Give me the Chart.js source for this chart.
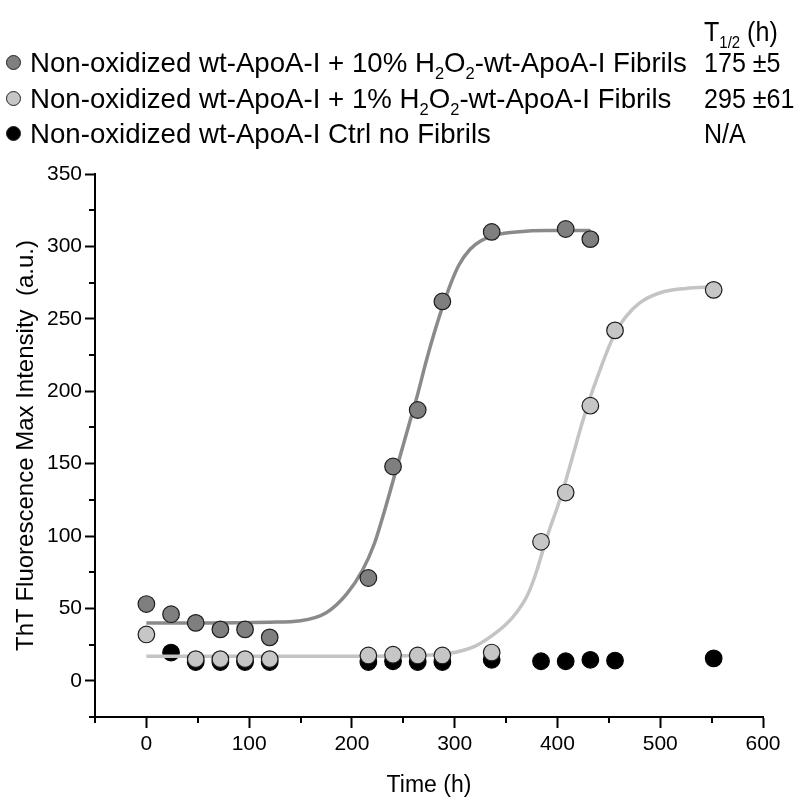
<!DOCTYPE html>
<html>
<head>
<meta charset="utf-8">
<script src="https://cdn.jsdelivr.net/npm/chart.js@4.4.1/dist/chart.umd.min.js"></script>
<style>
body{margin:0;background:#fff;}
#wrap{position:relative;width:800px;height:803px;overflow:hidden;}
#c{position:absolute;left:0;top:0;}
.lg{position:absolute;font-family:"Liberation Sans",Arial,sans-serif;font-size:28.5px;line-height:30px;white-space:nowrap;color:#000;transform-origin:0 50%;transform:scaleX(0.97);}
.lg sub{font-size:17px;vertical-align:-7px;line-height:0;}
.num{transform:scaleX(0.88);}
.dot{position:absolute;width:15px;height:15px;border-radius:50%;border:1.2px solid #222;box-sizing:border-box;}
</style>
</head>
<body>
<div id="wrap">
<canvas id="c" width="800" height="803"></canvas>
<div class="lg num" style="left:704px;top:16px;">T<sub>1/2</sub> (h)</div>

<div class="dot" style="left:6px;top:55px;background:#7f7f7f"></div>
<div class="lg" style="left:30px;top:47px;">Non-oxidized wt-ApoA-I + 10% H<sub>2</sub>O<sub>2</sub>-wt-ApoA-I Fibrils</div>
<div class="lg num" style="left:704px;top:47px;">175 ±5</div>

<div class="dot" style="left:6px;top:91px;background:#c6c6c6"></div>
<div class="lg" style="left:30px;top:83px;">Non-oxidized wt-ApoA-I + 1% H<sub>2</sub>O<sub>2</sub>-wt-ApoA-I Fibrils</div>
<div class="lg num" style="left:704px;top:83px;">295 ±61</div>

<div class="dot" style="left:6px;top:126px;background:#000"></div>
<div class="lg" style="left:30px;top:118px;">Non-oxidized wt-ApoA-I Ctrl no Fibrils</div>
<div class="lg num" style="left:704px;top:118px;">N/A</div>
</div>

<script>
// measured points
const timeDark = [0, 24, 48, 72, 96, 120, 216, 240, 264, 288, 336, 408, 432];
const dark10 = [53, 46, 40, 35.5, 35.5, 30, 71, 148, 187, 262, 310, 312, 305];

const timeLight = [0, 48, 72, 96, 120, 216, 240, 264, 288, 336, 384, 408, 432, 456, 552];
const light1 = [32, 15, 15, 15, 15, 17.5, 18, 17.5, 17.5, 19.5, 96, 130, 190, 242, 270];

const timeCtrl = [24, 48, 72, 96, 120, 216, 240, 264, 288, 336, 384, 408, 432, 456, 552];
const ctrl = [19.5, 13, 13, 13, 13, 13, 13.5, 13, 13, 14.5, 13.5, 13.5, 14.5, 14, 15.5];

// fitted curves
const fitTimeDark = [0, 60, 120, 150, 175, 195, 210, 222, 232, 240, 248, 256, 264, 272, 280, 288, 296, 304, 315, 326, 340, 360, 390, 432];
const fitDark = [40, 40, 40.5, 41.5, 47, 60, 76, 95, 118, 138, 158, 178, 198, 220, 240, 258, 274, 287, 298, 304, 308, 310, 311, 311];

const fitTimeLight = [0, 100, 200, 260, 295, 320, 335, 350, 360, 370, 378, 385, 392, 400, 408, 416, 424, 432, 440, 448, 456, 466, 480, 500, 525, 552];
const fitLight = [17, 17, 17, 17.5, 19, 24, 30.5, 39, 47, 58, 72, 88, 104, 120, 138, 158, 178, 196, 212, 227, 240, 251, 261, 268, 271, 272];

const xTicksMajor = 100;
const yTicksMajor = 50;

function pts(xs, ys){
    return xs.map((x,i)=>({x:x, y:ys[i]}))
}

// short unlabeled ticks between the labeled ones
const minorTicks = {
    id:'minorTicks',
    afterDraw(chart){
        const ctx = chart.ctx
        const xs = chart.scales.x, ys = chart.scales.y
        ctx.save()
        ctx.strokeStyle = '#000'
        ctx.lineWidth = 2
        xs.ticks.forEach(t=>{
            if(t.value % xTicksMajor !== 0){
                const px = Math.round(xs.getPixelForValue(t.value))
                ctx.beginPath()
                ctx.moveTo(px, xs.top)
                ctx.lineTo(px, xs.top + 6)
                ctx.stroke()
            }
        })
        ys.ticks.forEach(t=>{
            if(t.value % yTicksMajor !== 0){
                const py = Math.round(ys.getPixelForValue(t.value))
                ctx.beginPath()
                ctx.moveTo(ys.right, py)
                ctx.lineTo(ys.right - 6, py)
                ctx.stroke()
            }
        })
        ctx.restore()
    }
}

const font = "'Liberation Sans', Arial, sans-serif"

new Chart(document.getElementById('c').getContext('2d'), {
    type:'scatter',
    data:{
        datasets:[
            {data:pts(timeDark, dark10), backgroundColor:'#7f7f7f', borderColor:'#1e1e1e', borderWidth:1.2, pointRadius:8.3},
            {data:pts(timeLight, light1), backgroundColor:'#c6c6c6', borderColor:'#1e1e1e', borderWidth:1.2, pointRadius:8.3},
            {data:pts(fitTimeDark, fitDark), showLine:true, borderColor:'#8a8a8a', borderWidth:3.5, pointRadius:0, cubicInterpolationMode:'monotone'},
            {data:pts(fitTimeLight, fitLight), showLine:true, borderColor:'#c4c4c4', borderWidth:3.5, pointRadius:0, cubicInterpolationMode:'monotone'},
            {data:pts(timeCtrl, ctrl), backgroundColor:'#000', borderColor:'#000', borderWidth:1.2, pointRadius:8.3}
        ]
    },
    options:{
        responsive:false,
        animation:false,
        layout:{padding:{top:174, right:37, left:0, bottom:0}},
        plugins:{legend:{display:false}, tooltip:{enabled:false}},
        scales:{
            x:{
                type:'linear', min:-50, max:600,
                ticks:{stepSize:50, autoSkip:false, maxRotation:0, color:'#000', padding:4,
                    font:{family:font, size:21},
                    callback:v=> v % xTicksMajor === 0 ? v : ''},
                grid:{drawOnChartArea:false, tickLength:11, tickWidth:2,
                    tickColor:c=> c.tick && c.tick.value % xTicksMajor === 0 ? '#000' : 'rgba(0,0,0,0)'},
                border:{color:'#000', width:2},
                title:{display:true, text:'Time (h)', color:'#000', font:{family:font, size:23}, padding:{top:5}},
                afterFit:s=>{ s.height = 86 }
            },
            y:{
                min:-25, max:350,
                ticks:{stepSize:25, autoSkip:false, color:'#000', padding:3,
                    font:{family:font, size:21},
                    callback:v=> v % yTicksMajor === 0 ? v : ''},
                grid:{drawOnChartArea:false, tickLength:10, tickWidth:2,
                    tickColor:c=> c.tick && c.tick.value % yTicksMajor === 0 ? '#000' : 'rgba(0,0,0,0)'},
                border:{color:'#000', width:2},
                title:{display:true, text:'ThT Fluorescence Max Intensity  (a.u.)', color:'#000', font:{family:font, size:24}, padding:{top:12, bottom:0}},
                afterFit:s=>{ s.width = 95 }
            }
        }
    },
    plugins:[minorTicks]
});
</script>
</body>
</html>
